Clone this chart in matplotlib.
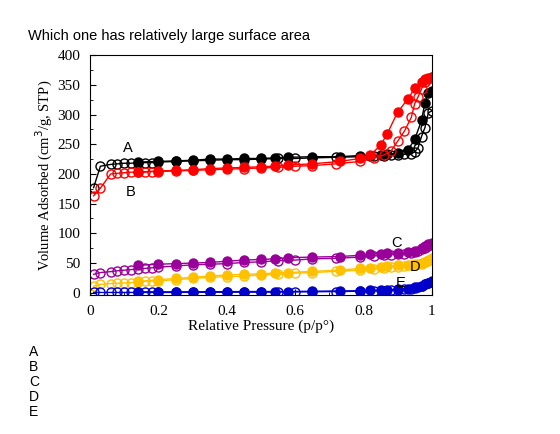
import matplotlib
matplotlib.use('Agg')
import matplotlib.pyplot as plt
import matplotlib.ticker as ticker

# relative pressure points (adsorption = open, desorption = filled)
ads_x = [0.01, 0.03, 0.06, 0.08, 0.10, 0.12, 0.14, 0.16, 0.18, 0.20, 0.25, 0.30, 0.35,
         0.40, 0.45, 0.50, 0.55, 0.60, 0.65, 0.72, 0.79, 0.83, 0.86, 0.88, 0.90, 0.92,
         0.94, 0.95, 0.96, 0.97, 0.98, 0.99, 1.00]
des_x = [1.00, 0.99, 0.98, 0.97, 0.95, 0.93, 0.90, 0.87, 0.85, 0.82, 0.79, 0.73, 0.65,
         0.58, 0.54, 0.50, 0.45, 0.40, 0.35, 0.30, 0.25, 0.20, 0.14]

# sample A (black)
a_ads = [177, 213, 216, 217, 218, 218, 219, 219, 219, 220, 221, 222, 223, 224, 224, 225,
         226, 226, 227, 228, 229, 230, 231, 232, 232, 233, 234, 237, 244, 263, 278, 303, 306]
a_des = [340, 337, 320, 290, 258, 240, 235, 233, 232, 231, 231, 229, 229, 228, 227, 226,
         226, 225, 225, 223, 222, 221, 220]

# sample B (red)
b_ads = [163, 176, 200, 201, 202, 203, 203, 203, 204, 204, 205, 206, 207, 208, 209, 210,
         211, 213, 214, 217, 221, 226, 232, 238, 255, 272, 295, 318, 330, 343, 355, 360, 363]
b_des = [364, 362, 360, 355, 344, 326, 304, 268, 248, 232, 226, 221, 217, 215, 213, 212,
         211, 210, 209, 207, 206, 205, 203]

# sample C (purple)
c_ads = [31, 34, 35.5, 37, 38, 39, 40, 41, 42, 43, 45, 47, 48, 49, 51, 52, 54, 55, 57,
         58, 60, 62, 63, 64, 65, 66, 67, 68, 70, 73, 76, 79, 82]
c_des = [84, 82, 78, 75, 70, 68, 67, 67, 66, 65, 63, 61, 60, 59, 57, 56, 55, 53, 51,
         50, 49, 48, 46]

# sample D (yellow)
d_ads = [11, 14, 15.5, 16, 16.5, 17, 18, 19, 19.5, 20, 22, 24, 26, 27, 28, 30, 31, 33,
         34, 36, 38, 40, 42, 43, 44, 45, 46, 47, 48, 49, 51, 53, 56]
d_des = [58, 55, 52, 50, 48, 47, 46, 45, 44, 42, 41, 38, 36, 34, 33, 32, 31, 30, 28,
         26, 24, 22, 19]

# sample E (blue)
e_ads = [0.5, 0.5, 0.5, 0.5, 0.5, 0.5, 0.5, 0.5, 0.5, 0.5, 0.6, 0.7, 0.8, 0.9, 1.0, 1.0,
         1.2, 1.4, 1.6, 2.0, 2.5, 3.0, 3.5, 4.0, 5.0, 6.0, 7.0, 8.0, 9.0, 11, 14, 16, 18]
e_des = [20, 17, 15, 12, 9, 7, 6, 5, 4.5, 4, 3.5, 3, 2.5, 2, 2, 2, 2, 1.8, 1.8, 1.6,
         1.5, 1.5, 1.5]

samples = ['A', 'B', 'C', 'D', 'E']
colors = ['black', '#ff0000', '#990099', '#ffc000', '#0000cc']
ads_data = [a_ads, b_ads, c_ads, d_ads, e_ads]
des_data = [a_des, b_des, c_des, d_des, e_des]

fig = plt.figure(figsize=(5.6, 4.34), dpi=100)
ax = fig.add_axes([0.161, 0.320, 0.610, 0.553])

for col, ya, yd in zip(colors, ads_data, des_data):
    ax.plot(ads_x, ya, color=col, lw=1.0, marker='o', ms=6.5,
            mfc='none', mec=col, mew=1.0)
    ax.plot(des_x, yd, color=col, lw=1.0, marker='o', ms=6.5,
            mfc=col, mec=col)

# sample letters next to the curves
label_pos = {'A': (0.11, 244), 'B': (0.118, 170), 'C': (0.897, 84),
             'D': (0.95, 43), 'E': (0.909, 16)}
for s in samples:
    x, y = label_pos[s]
    ax.text(x, y, s, fontsize=10.5, family='Liberation Sans', ha='center', va='center')

ax.set_xlim(0, 1.0)
ax.set_ylim(-4, 400)
ax.yaxis.set_major_locator(ticker.MultipleLocator(50))
ax.yaxis.set_minor_locator(ticker.MultipleLocator(25))
ax.xaxis.set_major_locator(ticker.MultipleLocator(0.2))
ax.xaxis.set_minor_locator(ticker.MultipleLocator(0.1))
ax.xaxis.set_major_formatter(ticker.FuncFormatter(lambda v, pos: '{:g}'.format(round(v, 1))))
ax.tick_params(which='both', direction='in', top=False, right=False)
ax.tick_params(which='major', length=4, labelsize=11, pad=7)
ax.tick_params(which='minor', length=2.5)
for lab in ax.get_xticklabels() + ax.get_yticklabels():
    lab.set_family('Liberation Serif')
for sp in ax.spines.values():
    sp.set_linewidth(0.8)

ax.set_xlabel('Relative Pressure (p/p°)', family='Liberation Serif', fontsize=11, labelpad=1)
ax.set_ylabel('Volume Adsorbed (cm$^3$/g, STP)', family='Liberation Serif', fontsize=10.5,
              labelpad=2)

fig.text(0.05, 0.917, 'Which one has relatively large surface area', family='Liberation Sans',
         fontsize=10.5, ha='left', va='center')
for i, s in enumerate(samples):
    fig.text(0.052, 1 - (352 + 15 * i) / 434, s, family='Liberation Sans', fontsize=10,
             ha='left', va='center')

fig.savefig('out.png', dpi=100)
